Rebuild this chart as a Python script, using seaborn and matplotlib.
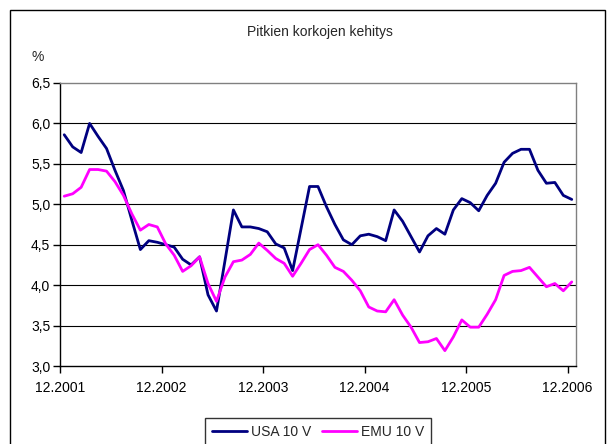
import numpy as np
import pandas as pd
import matplotlib
matplotlib.use("Agg")
import matplotlib.pyplot as plt
import seaborn as sns
from matplotlib.patches import Rectangle

# monthly 10y yields, 12.2001 - 12.2006
usa = [5.86, 5.71, 5.64, 6.00, 5.84, 5.69, 5.42, 5.17, 4.80, 4.44,
       4.55, 4.53, 4.50, 4.47, 4.32, 4.25, 4.35, 3.88, 3.68, 4.30,
       4.93, 4.72, 4.72, 4.70, 4.66, 4.51, 4.46, 4.18, 4.70, 5.22,
       5.22, 4.97, 4.75, 4.56, 4.50, 4.61, 4.63, 4.60, 4.55, 4.93,
       4.79, 4.60, 4.41, 4.61, 4.70, 4.63, 4.93, 5.07, 5.02, 4.92,
       5.11, 5.26, 5.52, 5.63, 5.68, 5.68, 5.42, 5.26, 5.27, 5.11,
       5.06]
emu = [5.10, 5.13, 5.21, 5.43, 5.43, 5.41, 5.28, 5.11, 4.88, 4.68,
       4.75, 4.72, 4.51, 4.37, 4.17, 4.24, 4.35, 4.02, 3.80, 4.10,
       4.29, 4.31, 4.38, 4.52, 4.43, 4.33, 4.27, 4.11, 4.27, 4.44,
       4.50, 4.37, 4.22, 4.17, 4.06, 3.93, 3.73, 3.68, 3.67, 3.82,
       3.63, 3.48, 3.29, 3.30, 3.34, 3.19, 3.36, 3.57, 3.48, 3.48,
       3.64, 3.82, 4.12, 4.17, 4.18, 4.22, 4.10, 3.98, 4.02, 3.93,
       4.04]
months = pd.date_range("2001-12-01", periods=len(usa), freq="MS")
year_labels = ["12.2001", "12.2002", "12.2003", "12.2004", "12.2005", "12.2006"]
y_ticks = [3.0, 3.5, 4.0, 4.5, 5.0, 5.5, 6.0, 6.5]

df = pd.DataFrame({
    "kk": np.tile(np.arange(len(months)), 2),
    "korko": usa + emu,
    "sarja": ["USA 10 V"] * len(usa) + ["EMU 10 V"] * len(emu),
})

sns.set_style("white")
plt.rcParams["font.family"] = ["Liberation Sans", "DejaVu Sans"]

fig = plt.figure(figsize=(6.07, 4.44), dpi=100)
ax = fig.add_axes([60 / 607, 1 - 366 / 444, 516 / 607, 283 / 444])

# outer chart frame
fig.patches.append(Rectangle((10 / 607, -0.1), 595 / 607, 1.1 - 10 / 444,
                             transform=fig.transFigure, fill=False,
                             edgecolor="black", linewidth=1.0))

sns.lineplot(data=df, x="kk", y="korko", hue="sarja",
             palette={"USA 10 V": "#000080", "EMU 10 V": "#FF00FF"},
             linewidth=2.0, ax=ax, legend=False)

ax.set_xlim(-0.5, len(months) - 0.5)
ax.set_ylim(3.0, 6.5)
ax.set_yticks(y_ticks)
ax.set_yticklabels([f"{v:.1f}".replace(".", ",") for v in y_ticks])
ax.set_xticks([-0.5 + 12 * k for k in range(len(year_labels))])
ax.set_xticklabels(year_labels)
ax.set_xlabel("")
ax.set_ylabel("")
for v in y_ticks[1:-1]:
    ax.axhline(v, color="black", linewidth=0.8, zorder=0)

ax.tick_params(axis="both", direction="out", length=5, width=1,
               labelsize=10, colors="black", left=True, bottom=True)
ax.tick_params(axis="x", pad=6)
ax.tick_params(axis="y", pad=2)
for s in ["left", "bottom"]:
    ax.spines[s].set_color("black")
    ax.spines[s].set_linewidth(1.0)
for s in ["top", "right"]:
    ax.spines[s].set_color("#808080")
    ax.spines[s].set_linewidth(1.0)

fig.text(320 / 607, 1 - 32 / 444, "Pitkien korkojen kehitys", ha="center",
         va="center", fontsize=10)
fig.text(38 / 607, 1 - 57 / 444, "%", ha="center", va="center", fontsize=10)

handles = [plt.Line2D([], [], color="#000080", linewidth=2.0),
           plt.Line2D([], [], color="#FF00FF", linewidth=2.0)]
leg = fig.legend(handles, ["USA 10 V", "EMU 10 V"], loc="center",
                 bbox_to_anchor=(318 / 607, 1 - 432 / 444), ncol=2,
                 fontsize=10, frameon=True, fancybox=False,
                 handlelength=2.5, handletextpad=0.3, columnspacing=0.8,
                 borderpad=0.5, borderaxespad=0)
leg.get_frame().set_edgecolor("black")
leg.get_frame().set_linewidth(1.0)

fig.savefig("out.png", dpi=100)
